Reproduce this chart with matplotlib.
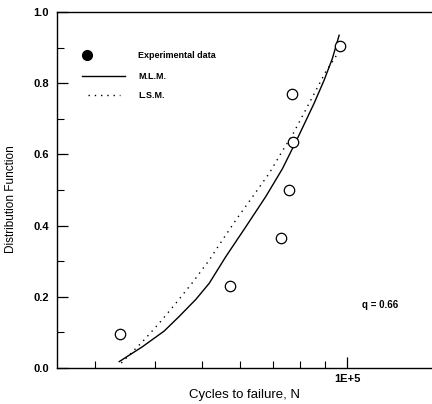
import matplotlib
matplotlib.use("Agg")
import matplotlib.pyplot as plt
from matplotlib.ticker import FixedLocator, NullFormatter, FixedFormatter

plt.rcParams['font.family'] = ['Liberation Sans', 'DejaVu Sans']

# Experimental data (median ranks)
cycles_exp = [33700, 57200, 72900, 75900, 77300, 77000, 96600]
prob_exp = [0.095, 0.230, 0.365, 0.500, 0.635, 0.770, 0.905]

# M.L.M. curve
cycles_mlm = [33650, 37610, 41720, 44820, 48540, 51730, 56000, 61630,
              67800, 73400, 78860, 85410, 89600, 93200, 96250]
prob_mlm = [0.018, 0.060, 0.104, 0.145, 0.193, 0.238, 0.313, 0.397,
            0.482, 0.560, 0.645, 0.744, 0.809, 0.870, 0.935]

# L.S.M. curve
cycles_lsm = [33980, 37610, 40740, 44110, 47750, 51730, 54250, 58770,
              63630, 68900, 73400, 77000, 83400, 90320, 96580]
prob_lsm = [0.014, 0.074, 0.126, 0.182, 0.240, 0.303, 0.346, 0.416,
            0.481, 0.547, 0.610, 0.655, 0.744, 0.833, 0.893]

legend_labels = ['Experimental data', 'M.L.M.', 'L.S.M.']

fig = plt.figure(figsize=(4.32, 4.04), dpi=100)
ax = fig.add_axes([0.132, 0.089, 0.868, 0.881])

ax.plot(cycles_mlm, prob_mlm, color='black', lw=1.0)
ax.plot(cycles_lsm, prob_lsm, color='black', lw=1.0, linestyle=(0, (1, 3.5)))
ax.plot(cycles_exp, prob_exp, 'o', mfc='white', mec='black', ms=7.5, mew=0.9)

ax.set_xscale('log')
ax.set_xlim(25000, 150000)
ax.set_ylim(0.0, 1.0)

ax.xaxis.set_major_locator(FixedLocator([1e5]))
ax.xaxis.set_major_formatter(FixedFormatter(['1E+5']))
ax.xaxis.set_minor_locator(FixedLocator([3e4, 4e4, 5e4, 6e4, 7e4, 8e4, 9e4]))
ax.xaxis.set_minor_formatter(NullFormatter())

ax.set_yticks([0.0, 0.2, 0.4, 0.6, 0.8, 1.0])
ax.set_yticklabels(['0.0', '0.2', '0.4', '0.6', '0.8', '1.0'])
ax.set_yticks([0.1, 0.3, 0.5, 0.7, 0.9], minor=True)

ax.tick_params(axis='both', which='major', direction='in', length=8,
               width=0.9, labelsize=8)
ax.tick_params(axis='both', which='minor', direction='in', length=5, width=0.8)
for lab in ax.get_xticklabels() + ax.get_yticklabels():
    lab.set_fontweight('bold')
ax.tick_params(axis='y', pad=6)
ax.tick_params(axis='x', pad=4)

ax.spines['right'].set_visible(False)
for s in ['left', 'bottom', 'top']:
    ax.spines[s].set_linewidth(1.0)

ax.set_xlabel('Cycles to failure, N', fontsize=9.5)
ax.set_ylabel('Distribution Function', fontsize=8.5)
ax.xaxis.set_label_coords(0.501, -0.058)
ax.yaxis.set_label_coords(-0.106, 0.475)

ax.text(0.813, 0.177, 'q = 0.66', transform=ax.transAxes, fontsize=7,
        fontweight='bold', va='center')

# Legend drawn by hand, in axes coordinates
tr = ax.transAxes
ax.plot([0.080], [0.879], 'o', color='black', ms=7, transform=tr)
ax.plot([0.067, 0.181], [0.820, 0.820], color='black', lw=1.0, transform=tr)
ax.plot([0.083, 0.168], [0.767, 0.767], color='black', lw=1.0,
        linestyle=(0, (1, 3.5)), transform=tr)
for lab, yy in zip(legend_labels, [0.879, 0.820, 0.767]):
    ax.text(0.216, yy, lab, transform=tr, fontsize=6.5, fontweight='bold',
            va='center')

fig.savefig('out.png', dpi=100)
